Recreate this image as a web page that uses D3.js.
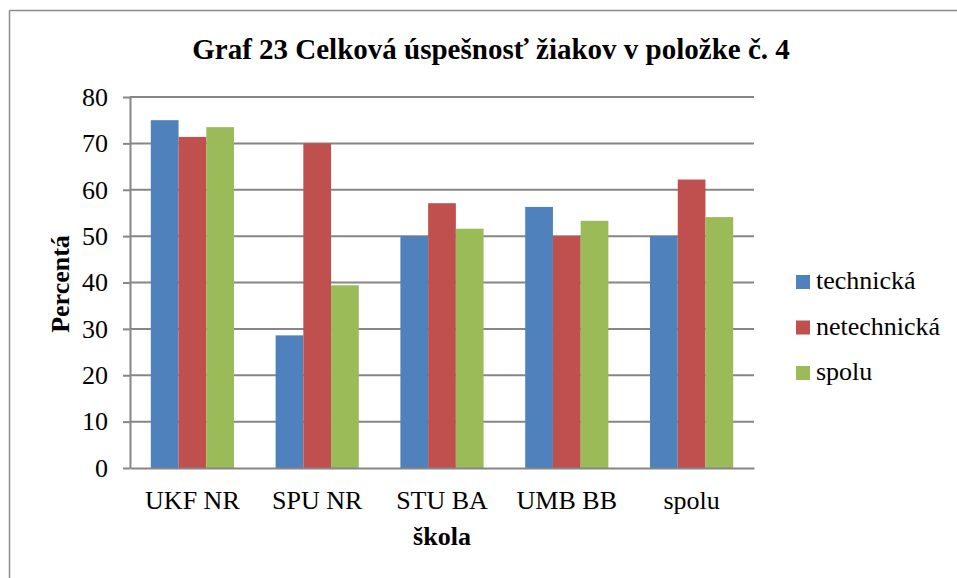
<!DOCTYPE html>
<html><head><meta charset="utf-8">
<script src="https://cdn.jsdelivr.net/npm/d3@7"></script>
<style>body{margin:0;background:#fff}svg{display:block}</style>
</head><body>
<svg id="c" width="957" height="578"></svg>
<script>
const categories = ["UKF NR", "SPU NR", "STU BA", "UMB BB", "spolu"];
const seriesNames = ["technická", "netechnická", "spolu"];
const technicka = [75, 28.6, 50, 56.3, 50];
const netechnicka = [71.4, 70, 57.1, 50, 62.2];
const spolu = [73.5, 39.4, 51.6, 53.3, 54.1];
const yTicks = [0, 10, 20, 30, 40, 50, 60, 70, 80];
const colors = ["#4f81bd", "#c0504d", "#9bbb59"];
const series = [technicka, netechnicka, spolu];

const svg = d3.select("#c");
const font = "Liberation Serif";
const L = 130, R = 754, T = 97, B = 468;

// outer frame
svg.append("line").attr("x1", 9.5).attr("x2", 957).attr("y1", 10.5).attr("y2", 10.5)
  .attr("stroke", "#8c8c8c").attr("stroke-width", 1.5);
svg.append("line").attr("x1", 9.5).attr("x2", 9.5).attr("y1", 10.5).attr("y2", 578)
  .attr("stroke", "#8c8c8c").attr("stroke-width", 1.5);

const x = d3.scaleBand().domain(categories).range([L, R]).padding(0);
const x1 = d3.scaleBand().domain(seriesNames).range([0, x.bandwidth() / 1.5]).padding(0);
const y = d3.scaleLinear().domain([0, 80]).range([B, T]);

// gridlines
svg.append("g").selectAll("line").data(yTicks.filter(d => d > 0)).join("line")
  .attr("x1", L).attr("x2", R).attr("y1", d => y(d)).attr("y2", d => y(d))
  .attr("stroke", "#868686").attr("stroke-width", 2);

// bars
const g = svg.append("g");
categories.forEach((c, i) => {
  const off = x(c) + (x.bandwidth() - x.bandwidth() / 1.5) / 2;
  seriesNames.forEach((s, j) => {
    g.append("rect")
      .attr("x", off + x1(s)).attr("width", x1.bandwidth())
      .attr("y", y(series[j][i])).attr("height", B - y(series[j][i]))
      .attr("fill", colors[j]);
  });
});

// y axis
const ya = svg.append("g").attr("transform", `translate(${L},0)`)
  .call(d3.axisLeft(y).tickValues(yTicks).tickSize(7).tickPadding(15).tickSizeOuter(0));
ya.attr("font-family", font).attr("font-size", 26);
ya.select(".domain").attr("stroke", "#868686").attr("stroke-width", 2);
ya.selectAll(".tick line").attr("stroke", "#868686").attr("stroke-width", 2);
ya.selectAll(".tick text").attr("font-family", font).attr("font-size", 26).attr("fill", "#000");

// x axis
const xa = svg.append("g").attr("transform", `translate(0,${B})`)
  .call(d3.axisBottom(x).tickSize(0).tickPadding(0).tickSizeOuter(0));
xa.attr("font-family", font).attr("font-size", 26);
xa.select(".domain").attr("stroke", "#868686").attr("stroke-width", 2);
xa.selectAll(".tick text").attr("font-family", font).attr("font-size", 26).attr("fill", "#000")
  .attr("dy", null).attr("y", 41);

// title
svg.append("text").attr("x", 491).attr("y", 59).attr("text-anchor", "middle")
  .attr("font-family", font).attr("font-weight", "bold").attr("font-size", 29)
  .text("Graf 23 Celková úspešnosť žiakov v položke č. 4");

// axis titles
svg.append("text").attr("transform", "translate(69,284) rotate(-90)").attr("text-anchor", "middle")
  .attr("font-family", font).attr("font-weight", "bold").attr("font-size", 26).text("Percentá");
svg.append("text").attr("x", 442).attr("y", 545).attr("text-anchor", "middle")
  .attr("font-family", font).attr("font-weight", "bold").attr("font-size", 26).text("škola");

// legend
const lg = svg.append("g");
seriesNames.forEach((s, j) => {
  const yy = 275 + j * 45.5;
  lg.append("rect").attr("x", 796).attr("y", yy).attr("width", 14).attr("height", 14).attr("fill", colors[j]);
  lg.append("text").attr("x", 816).attr("y", yy + 14).attr("font-family", font).attr("font-size", 26).text(s);
});
</script>
</body></html>
